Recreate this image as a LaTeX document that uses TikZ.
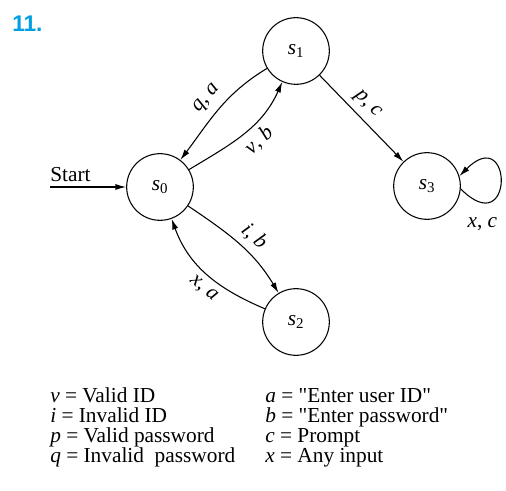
\documentclass[tikz,border=0pt]{standalone}
\usepackage{fontspec}
\setmainfont{Liberation Serif}[Ligatures=TeXOff]
\newfontfamily\headfont{Liberation Sans}
\usepackage{xcolor}
\usepackage{tikz}
\usetikzlibrary{arrows.meta, positioning}
\definecolor{exnumber}{RGB}{0,160,227}
\newcommand{\vname}[1]{\textit{#1}}
\newcommand{\statelbl}[1]{\textit{s}\textsubscript{#1}}

\begin{document}
\begin{tikzpicture}[x=0.75pt, y=0.75pt, font=\fontsize{16}{16}\selectfont,
    state/.style={draw, circle, minimum size=50pt, inner sep=0pt, line width=0.8pt},
    trans/.style={line width=0.8pt, -{Latex[length=8pt, width=4.5pt]}},
    lbl/.style={sloped, inner sep=4.5pt},
    keytext/.style={anchor=base west, inner sep=0pt}]
    \useasboundingbox (0,0) rectangle (506,-491);

    \node[keytext, text=exnumber, font=\headfont\bfseries\fontsize{17}{17}\selectfont] (exnum) at (12,-32) {11.};

    % states
    \node[state] (s0) at (160,-187) {\statelbl{0}};
    \node[state] (s1) at (296,-51) {\statelbl{1}};
    \node[state] (s2) at (296,-322) {\statelbl{2}};
    \node[state] (s3) at (427,-186) {\statelbl{3}};

    % start arrow
    \coordinate (start) at (50,-187);
    \node[keytext] (startlbl) at (50,-182) {Start};
    \draw[trans] (start) -- (s0);

    % transitions
    \draw[trans] (s1) to[out=211, in=53] node[lbl, above, inner sep=6pt] {\vname{q}, \vname{a}} (s0);
    \draw[trans] (s0) to[out=31, in=246] node[lbl, below, pos=0.55] {\vname{v}, \vname{b}} (s1);
    \draw[trans] (s0) to[out=-34, in=121] node[lbl, above, pos=0.55] {\vname{i}, \vname{b}} (s2);
    \draw[trans] (s2) to[out=157, in=-70] node[lbl, below, pos=0.45] {\vname{x}, \vname{a}} (s0);
    \draw[trans] (s1) -- node[lbl, above, pos=0.45] {\vname{p}, \vname{c}} (s3);
    \draw[trans] (s3.-5) to[out=-45, in=45, distance=57pt] node[below=7pt, pos=0.2, xshift=-3pt] {\vname{x}, \vname{c}} (s3.17);

    % legend
    \foreach \lft/\rgt [count=\k] in {
        {\vname{v} = Valid ID}/{\vname{a} = "Enter user ID"},
        {\vname{i} = Invalid ID}/{\vname{b} = "Enter password"},
        {\vname{p} = Valid password}/{\vname{c} = Prompt},
        {\vname{q} = Invalid\ \ password}/{\vname{x} = Any input}} {
        \node[keytext] (keyl\k) at (50,-382-20*\k) {\lft};
        \node[keytext] (keyr\k) at (265,-382-20*\k) {\rgt};
    }
\end{tikzpicture}
\end{document}
